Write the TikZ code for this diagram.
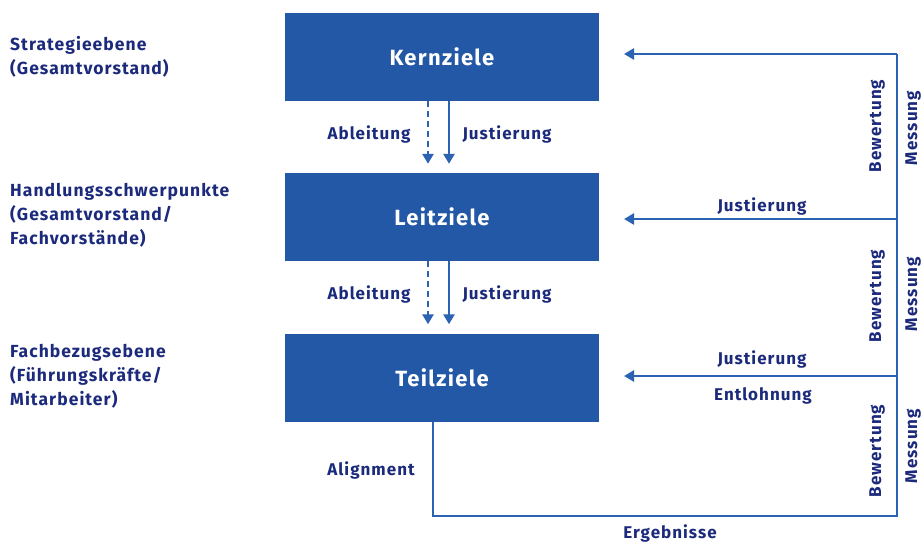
\documentclass[tikz,border=0pt]{standalone}
\usepackage{fontspec}
\setmainfont{Fira Sans}[LetterSpace=6]
\usetikzlibrary{arrows.meta,calc}
\definecolor{boxblue}{HTML}{2358A6}
\definecolor{navy}{HTML}{1C2A7C}
\definecolor{lineblue}{HTML}{2B62B2}
\begin{document}
\begin{tikzpicture}[x=1pt,y=-1pt,
  box/.style={fill=boxblue,text=white,minimum width=314pt,minimum height=88pt,inner sep=0pt,font=\bfseries\fontsize{22}{24}\selectfont},
  lvl/.style={anchor=west,align=left,inner sep=0pt,text=navy,font=\bfseries\fontsize{17.5}{24}\selectfont},
  lbl/.style={inner sep=0pt,text=navy,font=\bfseries\fontsize{17}{20}\selectfont},
  arr/.style={draw=lineblue,line width=2.6pt,-{Triangle[length=10pt,width=11pt]}},
  dsharr/.style={arr,dash pattern=on 6pt off 4pt},
  ln/.style={draw=lineblue,line width=2.6pt}]
\useasboundingbox (0,0) rectangle (923,542);
% boxes
\node[box] (k) at (442,57) {Kernziele};
\node[box] (l) at (442,217) {Leitziele};
\node[box] (t) at (442,377.5) {Teilziele};
% left level labels
\node[lvl] (s1) at (10,57) {Strategieebene\\(Gesamtvorstand)};
\node[lvl] (s2) at (10,215) {Handlungsschwerpunkte\\(Gesamtvorstand/\\Fachvorstände)};
\node[lvl] (s3) at (10,376) {Fachbezugsebene\\(Führungskräfte/\\Mitarbeiter)};
% vertical arrows between boxes
\draw[dsharr] ($(k.south)+(-14,0)$) -- ($(l.north)+(-14,-9)$);
\draw[arr] ($(k.south)+(7,0)$) -- ($(l.north)+(7,-9)$);
\draw[dsharr] ($(l.south)+(-14,0)$) -- ($(t.north)+(-14,-9)$);
\draw[arr] ($(l.south)+(7,0)$) -- ($(t.north)+(7,-9)$);
\node[lbl] (a1) at (369,134) {Ableitung};
\node[lbl] (j1) at (507,134) {Justierung};
\node[lbl] (a2) at (369,294) {Ableitung};
\node[lbl] (j2) at (507,294) {Justierung};
% feedback loop
\coordinate (r1) at (897,54);
\coordinate (r2) at (897,219);
\coordinate (r3) at (897,376);
\coordinate (rb) at (897,516);
\coordinate (lb) at (433,516);
\draw[ln] (t.south -| lb) -- (lb) -- (rb) -- (r1);
\draw[arr] (r1) -- (624,54);
\draw[arr] (r2) -- (624,219);
\draw[arr] (r3) -- (624,376);
\node[lbl] (j3) at (762,206) {Justierung};
\node[lbl] (j4) at (762,359) {Justierung};
\node[lbl] (e1) at (763,396) {Entlohnung};
\node[lbl,rotate=90] (b1) at (877,126) {Bewertung};
\node[lbl,rotate=90] (b2) at (877,296) {Bewertung};
\node[lbl,rotate=90] (b3) at (877,451) {Bewertung};
\node[lbl,rotate=90] (m1) at (913,128) {Messung};
\node[lbl,rotate=90] (m2) at (913,294) {Messung};
\node[lbl,rotate=90] (m3) at (913,446) {Messung};
\node[lbl] (al) at (371,470) {Alignment};
\node[lbl] (er) at (670,533) {Ergebnisse};
\end{tikzpicture}
\end{document}
